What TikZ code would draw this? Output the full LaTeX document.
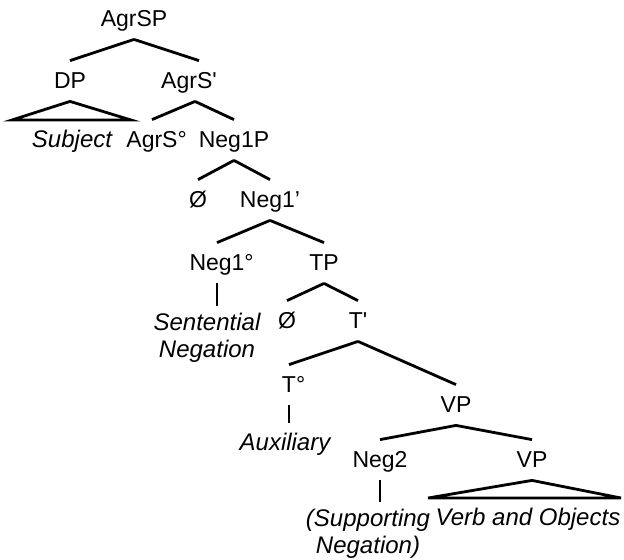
\documentclass[tikz,border=0pt]{standalone}
\usepackage{fontspec}
\newfontfamily\treefont{Liberation Sans}
\begin{document}
\begin{tikzpicture}[x=0.5pt,y=-0.5pt,line width=1.4pt,
  cat/.style={anchor=base,inner sep=4pt,text height=9pt,text depth=2pt,
    font=\treefont\fontsize{11.5}{13.5}\selectfont},
  word/.style={cat,font=\treefont\itshape\fontsize{12}{13.5}\selectfont},
  words/.style={anchor=north,inner sep=3pt,align=center,
    font=\treefont\itshape\fontsize{12}{13.5}\selectfont}]
  \useasboundingbox (0,0) rectangle (624,559);

  % Categories.
  \node[cat] (agrsp) at (134,26) {AgrSP};
  \node[cat] (dp) at (70,88) {DP};
  \node[cat] (agrsbar) at (189,88) {AgrS'};
  \node[cat] (agrs) at (152,147) {AgrS\rlap{°}};
  \node[cat] (neg1p) at (234,147) {Neg1P};
  \node[cat] (null1) at (198,207) {Ø};
  \node[cat] (neg1bar) at (270,207) {Neg1’};
  \node[cat] (neg1) at (217,270) {Neg1\rlap{°}};
  \node[cat] (tp) at (324,270) {TP};
  \node[cat] (null2) at (287,328) {Ø};
  \node[cat] (tbar) at (358,328) {T'};
  \node[cat] (t) at (289,392) {T\rlap{°}};
  \node[cat] (vp1) at (456,412) {VP};
  \node[cat] (neg2) at (380,467) {Neg2};
  \node[cat] (vp2) at (532,467) {VP};

  % Words.
  \node[word] (subject) at (72,147) {Subject};
  \node[words] (sentneg) at (207,306) {Sentential\\Negation};
  \node[word] (aux) at (285,450) {Auxiliary};
  \node[words] (supneg) at (368,502) {(Supporting\\Negation)};
  \node[word] (verbobj) at (528,525) {Verb and Objects};

  % Branches.
  \draw (agrsp.south) -- (dp.north);
  \draw (agrsp.south) -- ([xshift=5pt]agrsbar.north);
  \draw ([xshift=3pt]agrsbar.south) -- (agrs.north);
  \draw ([xshift=3pt]agrsbar.south) -- (neg1p.north);
  \foreach \a/\b in {neg1p/null1,neg1p/neg1bar,neg1bar/neg1,neg1bar/tp,
    tp/null2,tp/tbar,tbar/t,tbar/vp1,vp1/neg2,vp1/vp2}
  \draw (\a.south) -- (\b.north);
  \draw (neg1.south) -- (neg1.south |- sentneg.north);
  \draw (t.south) -- (t.south |- aux.north);
  \draw (neg2.south) -- (neg2.south |- supneg.north);

  % Triangles.
  \coordinate (dpl) at (12,120);
  \coordinate (dpr) at (131,120);
  \draw (dp.south) -- (dpl) -- (dpr) -- cycle;
  \coordinate (vpl) at (428,498);
  \coordinate (vpr) at (621,498);
  \draw (vp2.south) -- (vpl) -- (vpr) -- cycle;
\end{tikzpicture}
\end{document}
